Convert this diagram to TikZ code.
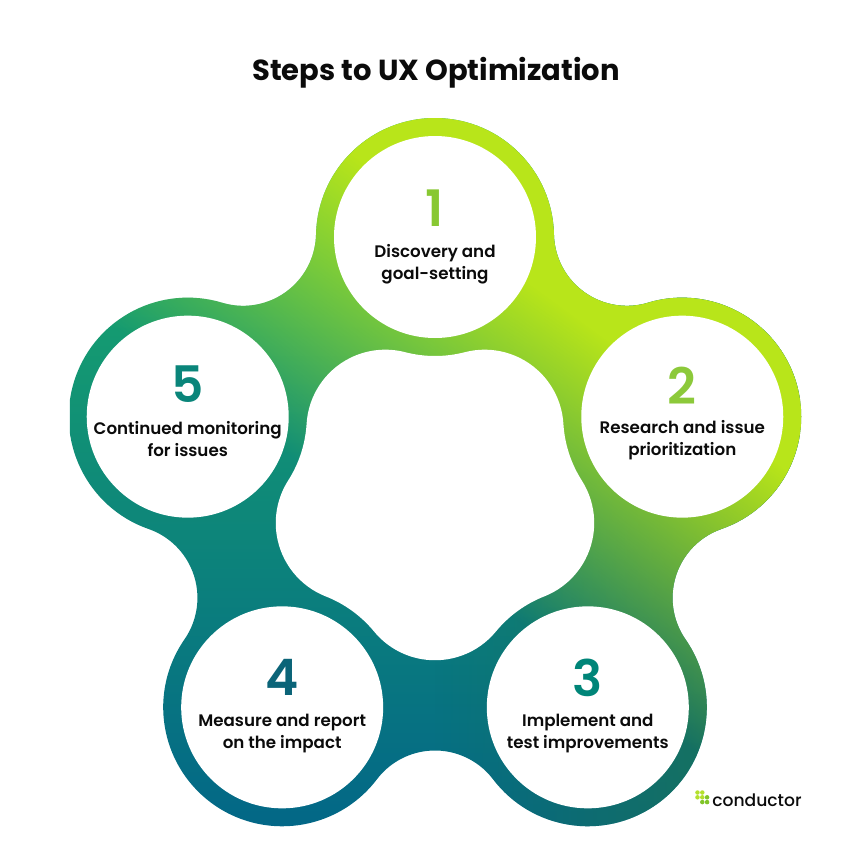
\documentclass[tikz,border=0pt]{standalone}
\usepackage{fontspec}
\setmainfont{Poppins SemiBold}
\newfontfamily\titlefont{Poppins Bold}
\newfontfamily\logofont{Poppins Medium}
\usetikzlibrary{fadings}

\definecolor{limering}{HTML}{B8E51A}
\definecolor{greenring}{HTML}{069C6E}
\definecolor{topring}{HTML}{1CB068}
\definecolor{bluering}{HTML}{005F8A}
\definecolor{mossring}{HTML}{1E7250}
\definecolor{inkblack}{HTML}{0B0B0B}
\definecolor{numa}{HTML}{88C832}
\definecolor{numb}{HTML}{8CC93A}
\definecolor{numc}{HTML}{008578}
\definecolor{numd}{HTML}{0B6478}
\definecolor{nume}{HTML}{0A857A}
\definecolor{dotlight}{HTML}{B4E02E}
\definecolor{dotdark}{HTML}{80C428}

% lime band: nothing below, opaque above, a ramp in between
\pgfdeclareverticalshading{limeglow}{100bp}{color(0bp)=(pgftransparent!100); color(41.05bp)=(pgftransparent!100); color(55.05bp)=(pgftransparent!0); color(100bp)=(pgftransparent!0)}
\pgfdeclarefading{limefade}{\pgfuseshading{limeglow}}

\tikzset{
  stepcircle/.style={circle, fill=white, minimum size=2.02cm, inner sep=0pt},
  stepnum/.style={font=\fontsize{14.3}{14.3}\selectfont, inner sep=0pt},
  steplabel/.style={align=center, text=inkblack, inner sep=0pt, font=\fontsize{4.75}{6.2}\selectfont},
  logodot/.style={circle, minimum size=0.045cm, inner sep=0pt}
}

\begin{document}
\begin{tikzpicture}
  \useasboundingbox (0, 0) rectangle (8.56, 8.56);
  \coordinate (hub) at (4.35, 3.59);
  \foreach \i/\ang in {1/90, 2/18, 3/-54, 4/-126, 5/-198} {
    \coordinate (ctr\i) at ([shift={(\ang:2.6)}]hub);
  }

  \node [font=\titlefont\fontsize{8.25}{8.25}\selectfont, text=inkblack] (title) at (4.36, 7.83) {Steps to UX Optimization};

  % outer blob with the gradient inside it
  \begin{scope}
    \clip ([shift={(178.76:1.19)}]ctr1)
      \foreach \a in {90, 18, -54, -126, -198} {
        arc [start angle=\a+88.76, end angle=\a-88.76, radius=1.19]
        arc [start angle=\a+91.24, end angle=\a+196.76, radius=0.7295]
      } -- cycle;
    \shade [top color=topring, middle color=greenring, bottom color=bluering] (0.7, -0.46) rectangle (8.01, 7.38);
    \fill [mossring, path fading=west] (4.35, 0) rectangle (8.4, 8.56);
    \fill [limering, path fading=limefade, fit fading=false, fading transform={shift={(4.35, 5.16)}, rotate=-36, scale=5.69}] (0, 0) rectangle (8.56, 8.56);
  \end{scope}

  % hole in the middle
  \fill [white] ([shift={(255.47:1.19)}]ctr1)
    \foreach \a in {90, 18, -54, -126, -198} {
      arc [start angle=\a+165.47, end angle=\a+194.53, radius=1.19]
      arc [start angle=\a+14.53, end angle=\a-86.53, radius=0.789]
    } -- cycle;

  \foreach \i/\numy/\laby/\numcol/\txt in {
      1/0.285/-0.27/numa/{Discovery and\\goal-setting},
      2/0.31/-0.235/numb/{Research and issue\\prioritization},
      3/0.295/-0.26/numc/{Implement and\\test improvements},
      4/0.295/-0.26/numd/{Measure and report\\on the impact},
      5/0.325/-0.225/nume/{Continued monitoring\\for issues}} {
    \node [stepcircle] (step\i) at (ctr\i) {};
    \node [stepnum, text=\numcol] (num\i) at ([yshift=\numy cm]ctr\i) {\i};
    \node [steplabel] (label\i) at ([yshift=\laby cm]ctr\i) {\txt};
  }

  % logo
  \foreach \x/\y/\dotcol in {0/0/dotlight, 1/0/dotlight, 0/1/dotlight, 1/1/dotlight, 2/1/dotdark, 1/2/dotdark, 2/2/dotdark} {
    \node [logodot, fill=\dotcol] (dot\x\y) at (6.975 + 0.048 * \x, 0.635 - 0.048 * \y) {};
  }
  \node [font=\logofont\fontsize{4.88}{4.88}\selectfont, text=inkblack, inner sep=0pt] (logotext) at (7.57, 0.56) {conductor};
\end{tikzpicture}
\end{document}
